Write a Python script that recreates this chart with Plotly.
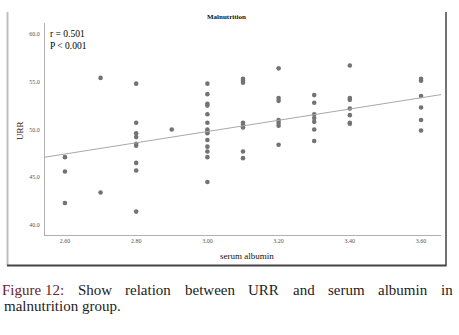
import plotly.graph_objects as go

# ---- data ----
albumin = (
    [2.60] * 3 + [2.70] * 2 + [2.80] * 9 + [2.90] * 1 + [3.00] * 14 +
    [3.10] * 8 + [3.20] * 7 + [3.30] * 7 + [3.40] * 7 + [3.60] * 6
)
urr = [
    47.1, 45.6, 42.3,
    55.4, 43.4,
    54.8, 50.7, 49.6, 49.2, 48.5, 48.3, 46.5, 45.7, 41.4,
    50.0,
    54.8, 53.7, 52.7, 52.5, 51.6, 50.7, 50.0, 49.8, 49.6, 48.9, 48.2, 47.7, 47.1, 44.5,
    55.3, 55.1, 54.9, 50.7, 50.5, 50.2, 47.7, 47.0,
    56.4, 53.3, 53.0, 51.0, 50.7, 50.4, 48.4,
    53.6, 52.8, 51.6, 51.2, 50.8, 50.0, 48.8,
    56.7, 53.3, 53.1, 52.2, 51.5, 50.7, 50.6,
    55.3, 55.1, 53.5, 52.3, 51.0, 49.9,
]
# linear fit line as drawn in the figure (value at each end of the x axis)
fit_x = [2.544, 3.656]
fit_y = [47.1, 53.65]

x_ticks = [2.60, 2.80, 3.00, 3.20, 3.40, 3.60]
y_ticks = [40.0, 45.0, 50.0, 55.0, 60.0]
x_range = [2.544, 3.656]
y_range = [38.95, 61.15]
stats_text = "r = 0.501<br>P < 0.001"
chart_title = "Malnutrition"
x_title = "serum albumin"
y_title = "URR"
caption_line1 = ["Figure 12:", "Show", "relation", "between", "URR", "and", "serum", "albumin", "in"]
caption_line2 = "malnutrition group."

serif = "Liberation Serif, Times New Roman, serif"

fig = go.Figure()
fig.add_trace(go.Scatter(
    x=albumin, y=urr, mode="markers",
    marker=dict(color="#737373", size=4.6, line=dict(width=0)),
    showlegend=False, hoverinfo="skip"))
fig.add_trace(go.Scatter(
    x=fit_x, y=fit_y, mode="lines",
    line=dict(color="#a8a8a8", width=1),
    showlegend=False, hoverinfo="skip"))

W, H = 459, 335
L, R, T, B = 45, 18, 23, 100
pw, ph = W - L - R, H - T - B

def px(xp):
    return (xp - L) / pw

def py(yp):
    return (H - B - yp) / ph

fig.update_layout(
    width=W, height=H,
    margin=dict(l=L, r=R, t=T, b=B, pad=0),
    paper_bgcolor="white", plot_bgcolor="white",
    font=dict(family=serif, color="#222"),
    xaxis=dict(range=x_range, tickvals=x_ticks,
               ticktext=[f"{v:.2f}" for v in x_ticks],
               showgrid=False, zeroline=False, showline=True,
               linecolor="#b0b0b0", linewidth=1, ticks="",
               tickfont=dict(size=6, color="#555", family=serif)),
    yaxis=dict(range=y_range, tickvals=y_ticks,
               ticktext=[f"{v:.1f}" for v in y_ticks],
               showgrid=False, zeroline=False, showline=True,
               linecolor="#b0b0b0", linewidth=1, ticks="",
               ticklabelstandoff=3,
               tickfont=dict(size=6, color="#555", family=serif)),
)

# frame around the chart
fig.add_shape(type="line", xref="paper", yref="paper",
              x0=px(7.5), x1=px(7.5), y0=py(12), y1=py(265.5),
              line=dict(color="#c0c0c0", width=2))
fig.add_shape(type="line", xref="paper", yref="paper",
              x0=px(446), x1=px(446), y0=py(12), y1=py(265.5),
              line=dict(color="#444", width=1.5))
fig.add_shape(type="line", xref="paper", yref="paper",
              x0=px(7), x1=px(446.5), y0=py(265.5), y1=py(265.5),
              line=dict(color="#444", width=2))

ann = [
    dict(text=f"<b>{chart_title}</b>", x=px(226), y=py(17), xanchor="center",
         yanchor="middle", font=dict(size=7, color="#111")),
    dict(text=stats_text, x=px(48), y=py(27), xanchor="left", yanchor="top",
         align="left", font=dict(size=9.5, color="#000")),
    dict(text=x_title, x=px(247), y=py(256), xanchor="center", yanchor="middle",
         font=dict(size=9, color="#111")),
    dict(text=y_title, x=px(20), y=py(131), xanchor="center", yanchor="middle",
         textangle=-90, font=dict(size=9, color="#111")),
    dict(text=caption_line2, x=px(2), y=py(306), xanchor="left", yanchor="middle",
         font=dict(size=15, color="#222")),
]

# Times-compatible advance widths (per 1000 em) for justifying the first caption line
adv = {
    'a': 444, 'b': 500, 'c': 444, 'd': 500, 'e': 444, 'f': 333, 'g': 500, 'h': 500,
    'i': 278, 'j': 278, 'k': 500, 'l': 278, 'm': 778, 'n': 500, 'o': 500, 'p': 500,
    'q': 500, 'r': 333, 's': 389, 't': 278, 'u': 500, 'v': 500, 'w': 722, 'x': 500,
    'y': 500, 'z': 444, 'F': 556, 'R': 667, 'S': 556, 'U': 722, ':': 278, ' ': 250,
    '.': 250, '1': 500, '2': 500,
}
fs = 15
widths = [sum(adv.get(c, 500) for c in w) * fs / 1000 for w in caption_line1]
left_edge, right_edge = 2, 453
gap = (right_edge - left_edge - sum(widths)) / (len(caption_line1) - 1)
xpos = left_edge
for i, w in enumerate(caption_line1):
    color = "#6b2323" if i == 0 else "#222"
    ann.append(dict(text=w, x=px(xpos + widths[i] / 2), y=py(290),
                    xanchor="center", yanchor="middle",
                    font=dict(size=fs, color=color)))
    xpos += widths[i] + gap

for a in ann:
    a.update(xref="paper", yref="paper", showarrow=False)
fig.update_layout(annotations=ann)

fig.write_html(
    "out.html",
    config={"displayModeBar": False, "staticPlot": True},
    post_script="document.body.style.margin='0';document.body.style.overflow='hidden';",
)
